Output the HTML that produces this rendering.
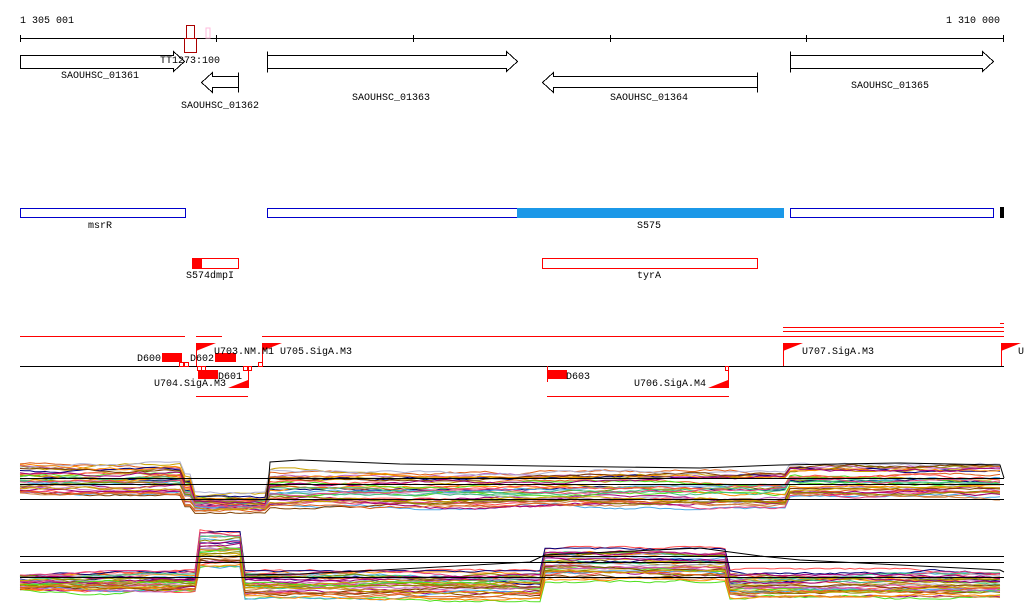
<!DOCTYPE html>
<html><head><meta charset="utf-8"><style>
html,body{margin:0;padding:0;background:#fff;width:1024px;height:611px;overflow:hidden}
svg{display:block}
text{font-family:"Liberation Mono","DejaVu Sans Mono",monospace;font-size:10px;fill:#000}
</style></head><body>
<svg id="s" width="1024" height="611" viewBox="0 0 1024 611" xmlns="http://www.w3.org/2000/svg">
<text x="20" y="23">1 305 001</text>
<text x="1000" y="23" text-anchor="end">1 310 000</text>
<g stroke="#000" stroke-width="1" fill="none" shape-rendering="crispEdges">
<line x1="20" y1="38.5" x2="1004" y2="38.5"/>
<path d="M20.5 35v7M216.5 35v7M413.5 35v7M610.5 35v7M806.5 35v7M1003.5 35v7"/>
<path d="M20.5 55.5H173.5V51.5L184.5 61.5L173.5 71.5V68.5H20.5Z"/>
<path d="M238.5 72.5V92.5M238.5 76.5H212.5V72.5L201.5 82.5L212.5 92.5V87.5H238.5"/>
<path d="M267.5 51.5V72.5M267.5 55.5H506.5V51.5L517.5 61.5L506.5 71.5V68.5H267.5"/>
<path d="M757.5 72.5V92.5M757.5 76.5H553.5V72.5L542.5 82.5L553.5 92.5V87.5H757.5"/>
<path d="M790.5 51.5V72.5M790.5 55.5H982.5V51.5L993.5 61.5L982.5 71.5V68.5H790.5"/>
<line x1="20" y1="366.5" x2="1004" y2="366.5"/>
</g>
<g fill="none" stroke="#a00" shape-rendering="crispEdges">
<rect x="186.5" y="25.5" width="8" height="13"/><rect x="184.5" y="38.5" width="12" height="14"/>
</g>
<rect x="206" y="28" width="4" height="10" fill="none" stroke="#fbd" />
<text x="160" y="63">TT1273:100</text>
<text x="100" y="78" text-anchor="middle">SAOUHSC_01361</text>
<text x="220" y="108" text-anchor="middle">SAOUHSC_01362</text>
<text x="391" y="100" text-anchor="middle">SAOUHSC_01363</text>
<text x="649" y="100" text-anchor="middle">SAOUHSC_01364</text>
<text x="890" y="88" text-anchor="middle">SAOUHSC_01365</text>
<g fill="none" stroke="#0000cc" shape-rendering="crispEdges">
<rect x="20.5" y="208.5" width="165" height="9"/>
<rect x="267.5" y="208.5" width="516" height="9"/>
<rect x="790.5" y="208.5" width="203" height="9"/>
</g>
<rect x="517" y="208" width="267" height="10" fill="#1b98e8"/>
<rect x="1000" y="207" width="4" height="11" fill="#000"/>
<text x="100" y="228" text-anchor="middle">msrR</text>
<text x="649" y="228" text-anchor="middle">S575</text>
<g fill="none" stroke="red" shape-rendering="crispEdges">
<rect x="192.5" y="258.5" width="46" height="10"/>
<rect x="542.5" y="258.5" width="215" height="10"/>
</g>
<rect x="192" y="258" width="10" height="11" fill="red"/>
<text x="210" y="278" text-anchor="middle">S574dmpI</text>
<text x="649" y="278" text-anchor="middle">tyrA</text>
<g stroke="red" fill="none" shape-rendering="crispEdges">
<path d="M20 336.5H185M196 336.5H222M262 336.5H1004M783 331.5H1004M783 327.5H1004M1000 323.5H1004"/>
<path d="M196 396.5H248M547 396.5H729"/>
<path d="M262.5 343v23M783.5 343v23M1001.5 343v23M248.5 366v22M728.5 366v22M196.5 343v23M547.5 366v16"/>
<rect x="179.5" y="362.5" width="4" height="4"/><rect x="184.5" y="362.5" width="4" height="4"/>
<rect x="197.5" y="366.5" width="4" height="4"/><rect x="201.5" y="366.5" width="4" height="4"/>
<rect x="243.5" y="366.5" width="4" height="4"/><rect x="247.5" y="366.5" width="4" height="4"/>
<rect x="258.5" y="362.5" width="4" height="4"/><rect x="725.5" y="366.5" width="3" height="4"/>
</g>
<g fill="red">
<rect x="162" y="353" width="20" height="9"/>
<rect x="215" y="353" width="21" height="9"/>
<rect x="198" y="370" width="20" height="9"/>
<rect x="547" y="370" width="20" height="9"/>
<path d="M196 343h20l-20 8z"/><path d="M262 343h20l-20 8z"/>
<path d="M783 343h20l-20 8z"/><path d="M1001 343h20l-20 8z"/>
<path d="M248 388h-20l20-8z"/><path d="M728 388h-20l20-8z"/>
</g>
<text x="137" y="361">D600</text>
<text x="190" y="361">D602</text>
<text x="214" y="354">U703.NM.M1</text>
<text x="280" y="354">U705.SigA.M3</text>
<text x="218" y="379">D601</text>
<text x="154" y="386">U704.SigA.M3</text>
<text x="566" y="379">D603</text>
<text x="634" y="386">U706.SigA.M4</text>
<text x="802" y="354">U707.SigA.M3</text>
<text x="1018" y="354">U</text>
<g id="plots" fill="none" stroke-width="1"></g>
<g stroke="#000" shape-rendering="crispEdges">
<path d="M20 478.5H1004M20 484.5H1004M20 499.5H1004M20 556.5H1004M20 562.5H1004M20 577.5H1004"/>
</g>
</svg>
<script>
(function(){
var seed=7;function r(){seed=(seed*16807)%2147483647;return seed/2147483647;}
var cols=["#e0601a","#c8a000","#888800","#a0007a","#50e020","#4aa8e8","#c060c0","#ff5050","#00007a","#d08040","#b0b0d0","#ff8c00","#804000","#40c080","#e04080"];
var g=document.getElementById('plots'),ns="http://www.w3.org/2000/svg";
function band(x,p){
 if(p==1){if(x<185)return[463,494];if(x<195)return[475,505];if(x<266)return[495,510];if(x<786)return[470,508];return[464,497];}
 if(x<196)return[574,590];if(x<244)return[533,566];if(x<543)return[573,597];if(x<727)return[550,578];return[572,596];
}
for(var p=1;p<=2;p++){for(var i=0;i<34;i++){var f=r(),d="",off=0;
 for(var x=20;x<=1004;x+=5){off+=(r()-0.5)*2.2;if(off>5)off=5;if(off<-5)off=-5;var b=band(x,p);var y=b[0]+(b[1]-b[0])*f+off;d+=(x==20?"M":"L")+x+" "+y.toFixed(1);}
 var pa=document.createElementNS(ns,"path");pa.setAttribute("d",d);pa.setAttribute("stroke",cols[i%cols.length]);g.appendChild(pa);}}
var k=document.createElementNS(ns,"path");
k.setAttribute("d","M267 500L270 462L300 460L400 464L540 466L700 468L780 465L900 463L1000 465L1004 478");k.setAttribute("stroke","#000");g.appendChild(k);
var k2=document.createElementNS(ns,"path");
k2.setAttribute("d","M245 575L300 574L420 568L530 562L545 555L700 548L760 556L800 560L900 565L1000 570L1004 572");k2.setAttribute("stroke","#000");g.appendChild(k2);
})();
</script>
</body></html>
